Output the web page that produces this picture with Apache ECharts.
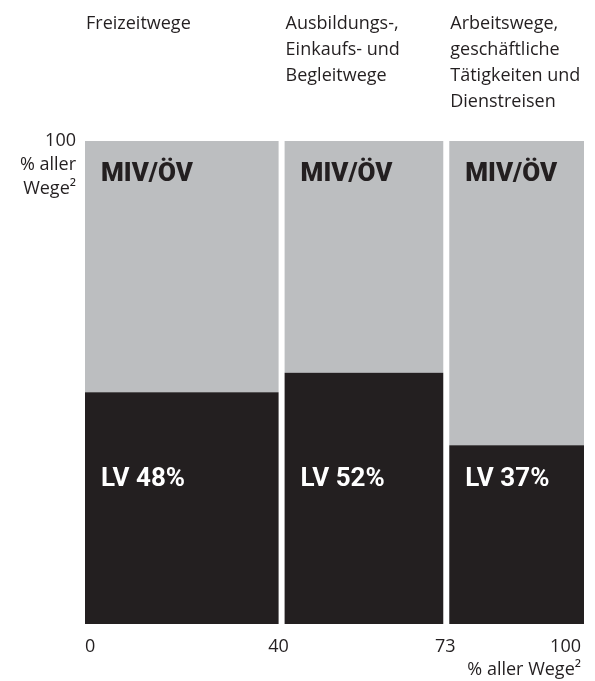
<!DOCTYPE html>
<html>
<head>
<meta charset="utf-8">
<script src="https://cdn.jsdelivr.net/npm/echarts@6/dist/echarts.min.js"></script>
<style>html,body{margin:0;padding:0;background:#fff}#c{width:595px;height:681px}</style>
</head>
<body>
<div id="c"></div>
<script>
// Data
const categories = ["Freizeitwege", "Ausbildungs-,\nEinkaufs- und\nBegleitwege", "Arbeitswege,\ngeschäftliche\nTätigkeiten und\nDienstreisen"];
const shares = [40, 33, 27];          // % aller Wege (width)
const lvValues = [48, 52, 37];        // LV share (%)
const restLabel = "MIV/ÖV";
const xTicks = [0, 40, 73, 100];
const yTicks = [100];

const items = [];
let acc = 0;
shares.forEach((s, i) => { items.push([acc, acc + s, lvValues[i], i]); acc += s; });

const dark = '#231F20', gray = '#BCBEC0';
const chart = echarts.init(document.getElementById('c'), null, {renderer: 'canvas'});

chart.setOption({
  animation: false,
  grid: {left: 85, right: 11, top: 141, bottom: 57, containLabel: false, outerBoundsMode: 'none'},
  xAxis: {
    type: 'value', min: 0, max: 100,
    axisLine: {show: false}, axisTick: {show: false}, splitLine: {show: false},
    axisLabel: {
      customValues: xTicks,
      margin: 11,
      hideOverlap: false,
      alignMinLabel: 'left',
      alignMaxLabel: 'right',
      color: dark, fontFamily: 'Open Sans', fontSize: 18, lineHeight: 23,
      formatter: function (v) {
        if (v === 0) return '{l|0}';
        if (v === 100) return '{r|100}\n{r|% aller Wege²}';
        if (v === 40) return '{m|40}';
        return '{n|' + v + '}';
      },
      rich: {
        l: {fontFamily: 'Open Sans', fontSize: 18, lineHeight: 23, color: dark},
        r: {align: 'right', padding: [0, 3, 0, 0], fontFamily: 'Open Sans', fontSize: 18, lineHeight: 23, color: dark},
        m: {padding: [0, 12, 0, 0], fontFamily: 'Open Sans', fontSize: 18, lineHeight: 23, color: dark},
        n: {padding: [0, 8, 0, 0], fontFamily: 'Open Sans', fontSize: 18, lineHeight: 23, color: dark}
      }
    }
  },
  yAxis: {
    type: 'value', min: 0, max: 100,
    axisLine: {show: false}, axisTick: {show: false}, splitLine: {show: false},
    axisLabel: {
      customValues: yTicks,
      margin: 9,
      color: dark, fontFamily: 'Open Sans', fontSize: 18, lineHeight: 24, align: 'right',
      formatter: function (v) { return '\n\n' + v + '\n% aller\nWege²'; }
    }
  },
  series: [{
    type: 'custom',
    clip: false,
    data: items,
    renderItem: function (params, api) {
      const x0 = api.value(0), x1 = api.value(1), lv = api.value(2), idx = api.value(3);
      const tl = api.coord([x0, 100]);
      const br = api.coord([x1, 0]);
      const mid = api.coord([x0, lv]);
      const gap = x1 < 100 ? 6 : 0;
      const w = br[0] - tl[0] - gap;
      return {
        type: 'group',
        children: [
          {type: 'rect', shape: {x: tl[0], y: tl[1], width: w, height: mid[1] - tl[1]}, style: {fill: gray}},
          {type: 'rect', shape: {x: tl[0], y: mid[1], width: w, height: br[1] - mid[1]}, style: {fill: dark}},
          {type: 'text', style: {x: tl[0] + 16, y: tl[1] + 33, text: restLabel, fill: dark,
            font: '900 26px Roboto', verticalAlign: 'middle', align: 'left'}},
          {type: 'text', style: {x: tl[0] + 16, y: br[1] - 145, text: 'LV ' + lv + '%', fill: '#fff',
            font: 'bold 26px Roboto', verticalAlign: 'middle', align: 'left'}},
          {type: 'text', style: {x: tl[0] + 1, y: tl[1] - 130, text: categories[idx], fill: dark,
            font: '18px "Open Sans"', lineHeight: 26, verticalAlign: 'top', align: 'left'}}
        ]
      };
    }
  }]
});
</script>
</body>
</html>
